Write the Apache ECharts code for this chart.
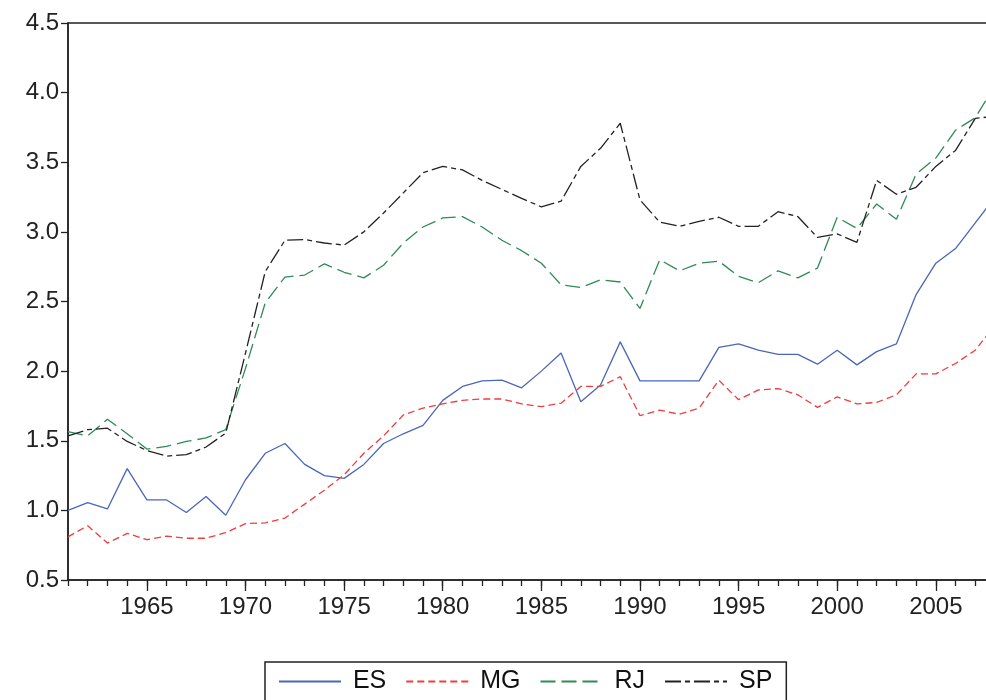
<!DOCTYPE html>
<html>
<head>
<meta charset="utf-8">
<script src="https://cdn.jsdelivr.net/npm/echarts@6/dist/echarts.min.js"></script>
<style>
    html, body { margin: 0; padding: 0; background: #fff; }
    #mycharts { width: 986px; height: 700px; }
</style>
</head>
<body>
<div id="mycharts"></div>
<script>
// years 1961 .. 2008
const years = [];
for (let y = 1961; y <= 2008; y++) years.push(String(y));

const yTicks = [0.5, 1.0, 1.5, 2.0, 2.5, 3.0, 3.5, 4.0, 4.5];

const ES = [1.00, 1.055, 1.01, 1.30, 1.075, 1.075, 0.985, 1.10, 0.965, 1.22,
    1.41, 1.48, 1.33, 1.25, 1.23, 1.33, 1.48, 1.55, 1.61, 1.79,
    1.89, 1.93, 1.935, 1.88, 2.00, 2.13, 1.78, 1.90, 2.21, 1.93,
    1.93, 1.93, 1.93, 2.17, 2.195, 2.15, 2.12, 2.12, 2.05, 2.15,
    2.045, 2.14, 2.195, 2.55, 2.775, 2.88, 3.065, 3.25];

const MG = [0.81, 0.89, 0.765, 0.835, 0.79, 0.815, 0.80, 0.80, 0.84, 0.905,
    0.91, 0.945, 1.045, 1.145, 1.255, 1.41, 1.535, 1.685, 1.735, 1.765,
    1.79, 1.80, 1.80, 1.765, 1.745, 1.77, 1.89, 1.89, 1.96, 1.68,
    1.72, 1.69, 1.735, 1.935, 1.795, 1.865, 1.875, 1.83, 1.74, 1.815,
    1.765, 1.775, 1.83, 1.98, 1.98, 2.055, 2.15, 2.33];

const RJ = [1.565, 1.535, 1.655, 1.55, 1.44, 1.46, 1.495, 1.52, 1.58, 2.02,
    2.49, 2.675, 2.69, 2.77, 2.71, 2.67, 2.76, 2.92, 3.035, 3.10,
    3.11, 3.035, 2.94, 2.865, 2.775, 2.62, 2.60, 2.655, 2.64, 2.45,
    2.80, 2.72, 2.775, 2.79, 2.68, 2.635, 2.72, 2.67, 2.74, 3.105,
    3.025, 3.20, 3.09, 3.415, 3.53, 3.73, 3.82, 4.05];

const SP = [1.535, 1.58, 1.59, 1.495, 1.43, 1.39, 1.40, 1.455, 1.555, 2.13,
    2.715, 2.94, 2.945, 2.92, 2.905, 3.00, 3.135, 3.28, 3.425, 3.47,
    3.445, 3.37, 3.305, 3.24, 3.18, 3.22, 3.47, 3.60, 3.78, 3.23,
    3.07, 3.04, 3.075, 3.105, 3.04, 3.04, 3.145, 3.11, 2.96, 2.985,
    2.925, 3.37, 3.27, 3.32, 3.47, 3.585, 3.815, 3.83];

const FONT = 'Liberation Sans, Arial, sans-serif';
const AXIS_COLOR = '#222';

const isMajor = (idx, val) => Number(val) % 5 === 0;

const makeSeries = (name, data, color, dash) => ({
    name: name,
    type: 'line',
    xAxisIndex: 0,
    data: data,
    symbol: 'none',
    animation: false,
    itemStyle: {color: color},
    lineStyle: {color: color, width: 1.3, type: dash}
});

const chart = echarts.init(document.getElementById('mycharts'));
chart.setOption({
    backgroundColor: '#fff',
    animation: false,
    grid: {
        left: 68,
        top: 23,
        width: 927,
        height: 557,
        containLabel: false,
        outerBoundsMode: 'none',
        show: true,
        borderColor: AXIS_COLOR,
        borderWidth: 1.5
    },
    xAxis: [{
        type: 'category',
        data: years,
        position: 'bottom',
        boundaryGap: false,
        axisLine: {lineStyle: {color: AXIS_COLOR, width: 1.5}},
        axisTick: {interval: 0, length: 6, lineStyle: {color: AXIS_COLOR, width: 1.3}},
        axisLabel: {
            interval: isMajor,
            margin: 15,
            fontSize: 24,
            color: AXIS_COLOR,
            fontFamily: FONT
        },
        splitLine: {show: false}
    }, {
        type: 'category',
        data: years,
        position: 'bottom',
        boundaryGap: false,
        axisLine: {show: false},
        axisTick: {interval: isMajor, length: 11, lineStyle: {color: AXIS_COLOR, width: 1.3}},
        axisLabel: {show: false},
        splitLine: {show: false}
    }],
    yAxis: {
        type: 'value',
        min: yTicks[0],
        max: yTicks[yTicks.length - 1],
        interval: 0.5,
        axisLine: {show: true, lineStyle: {color: AXIS_COLOR, width: 1.5}},
        axisTick: {show: true, length: 7, lineStyle: {color: AXIS_COLOR, width: 1.3}},
        axisLabel: {
            margin: 9,
            fontSize: 24,
            color: AXIS_COLOR,
            fontFamily: FONT,
            formatter: v => v.toFixed(1)
        },
        splitLine: {show: false}
    },
    legend: {
        left: 265,
        top: 662,
        orient: 'horizontal',
        borderColor: AXIS_COLOR,
        borderWidth: 1.5,
        padding: [7, 14, 12, 13],
        itemWidth: 62,
        itemHeight: 14,
        itemGap: 19,
        itemStyle: {opacity: 0},
        formatter: name => ' ' + name,
        textStyle: {fontSize: 25, color: '#111', fontFamily: FONT},
        data: ['ES', 'MG', 'RJ', 'SP']
    },
    series: [
        makeSeries('ES', ES, '#4a67b8', 'solid'),
        makeSeries('MG', MG, '#f03c3c', [7, 4]),
        makeSeries('RJ', RJ, '#2f8a55', [15, 6]),
        makeSeries('SP', SP, '#222222', [16, 4, 5, 4])
    ]
});
</script>
</body>
</html>
